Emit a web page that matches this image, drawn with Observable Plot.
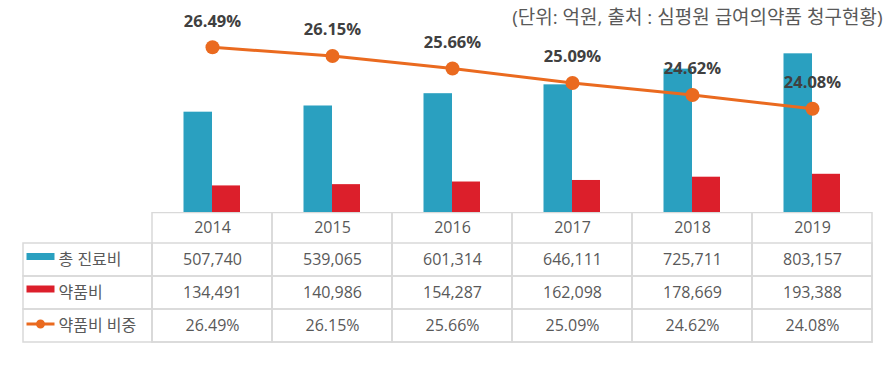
<!DOCTYPE html>
<html><head><meta charset="utf-8">
<script src="https://cdn.jsdelivr.net/npm/d3@7"></script>
<script src="https://cdn.jsdelivr.net/npm/@observablehq/plot@0.6"></script>
<style>
body{margin:0;background:#fff;}
#chart svg{display:block;}
</style></head><body><div id="chart"></div>
<script>
// ---- data ----
const years = ["2014", "2015", "2016", "2017", "2018", "2019"];
const totalCost = [507740, 539065, 601314, 646111, 725711, 803157];
const drugCost = [134491, 140986, 154287, 162098, 178669, 193388];
const drugShare = [26.49, 26.15, 25.66, 25.09, 24.62, 24.08];
const seriesNames = ["총 진료비", "약품비", "약품비 비중"];
const unitNote = "(단위: 억원, 출처 : 심평원 급여의약품 청구현황)";

// ---- style / scale settings ----
const FONT = '"Open Sans", "Noto Sans CJK KR", sans-serif';
const TEAL = "#2aa0c0", RED = "#dc1f2b", ORANGE = "#ea6a1f", GRID = "#d9d9d9", TEXT = "#595959";
const Y_MAX = 1073000;           // primary (억원) axis maximum
const PCT_AXIS = [20.02, 28.32]; // secondary (%) axis extent
const toPrimary = d3.scaleLinear().domain(PCT_AXIS).range([0, Y_MAX]);

const data = years.map((year, i) => ({year, total: totalCost[i], drug: drugCost[i], share: drugShare[i]}));

const chart = Plot.plot({
  width: 889, height: 212,
  marginLeft: 152, marginRight: 17, marginTop: 0, marginBottom: 0,
  style: {fontFamily: FONT, background: "#fff"},
  x: {type: "band", domain: years, padding: 0, axis: null},
  y: {domain: [0, Y_MAX], axis: null},
  marks: [
    Plot.barY(data, {x: "year", y: "total", fill: TEAL, insetLeft: 31.5, insetRight: 60}),
    Plot.barY(data, {x: "year", y: "drug", fill: RED, insetLeft: 60, insetRight: 32}),
    Plot.line(data, {x: "year", y: d => toPrimary(d.share), stroke: ORANGE, strokeWidth: 3}),
    Plot.dot(data, {x: "year", y: d => toPrimary(d.share), r: 7, fill: ORANGE, stroke: "none"}),
    Plot.text(data, {x: "year", y: d => toPrimary(d.share), text: d => d.share.toFixed(2) + "%",
      dy: -26, fontWeight: "bold", fontSize: 16.5, fill: "#404040"}),
    Plot.text([unitNote], {frameAnchor: "top-right", text: d => d, dx: 10, dy: 17,
      lineAnchor: "middle", fontSize: 19, fill: TEXT})
  ]
});

const fmt = d3.format(",");
const cells = [];
years.forEach((year, i) => {
  cells.push({year, row: seriesNames[0], text: fmt(totalCost[i])});
  cells.push({year, row: seriesNames[1], text: fmt(drugCost[i])});
  cells.push({year, row: seriesNames[2], text: drugShare[i].toFixed(2) + "%"});
});

const rectSwatch = {draw(ctx) { ctx.rect(-14, -3.5, 28, 7); }};
const lineSwatch = {draw(ctx) { ctx.rect(-14, -1.5, 28, 3); ctx.moveTo(4.5, 0); ctx.arc(0, 0, 4.5, 0, 2 * Math.PI); }};

const table = Plot.plot({
  width: 889, height: 154,
  marginLeft: 152, marginRight: 17, marginTop: 30, marginBottom: 24,
  style: {fontFamily: FONT, fontSize: "16px", color: TEXT, background: "#fff"},
  x: {type: "band", domain: years, padding: 0, axis: null},
  y: {type: "band", domain: seriesNames, padding: 0, axis: null},
  marks: [
    Plot.cell(years, {x: d => d, fill: "none", stroke: GRID, strokeWidth: 1.5, insetTop: -29.5}),
    Plot.cell(cells, {x: "year", y: "row", fill: "none", stroke: GRID, strokeWidth: 1.5}),
    Plot.cell(seriesNames, {y: d => d, fill: "none", stroke: GRID, strokeWidth: 1.5, insetLeft: -129, insetRight: 720}),
    Plot.text(years, {x: d => d, frameAnchor: "top", lineAnchor: "middle", dy: -15, text: d => d, fill: TEXT}),
    Plot.text(cells, {x: "year", y: "row", text: "text", fill: TEXT}),
    Plot.dot([seriesNames[0]], {y: d => d, frameAnchor: "left", dx: -112, dy: -3.5, symbol: rectSwatch, r: 5, fill: TEAL, stroke: "none"}),
    Plot.dot([seriesNames[1]], {y: d => d, frameAnchor: "left", dx: -112, dy: -4, symbol: rectSwatch, r: 5, fill: RED, stroke: "none"}),
    Plot.dot([seriesNames[2]], {y: d => d, frameAnchor: "left", dx: -112, dy: -2, symbol: lineSwatch, r: 5, fill: ORANGE, stroke: "none"}),
    Plot.text(seriesNames, {y: d => d, frameAnchor: "left", textAnchor: "start", dx: -94, text: d => d, fill: TEXT})
  ]
});

document.getElementById("chart").append(chart, table);
</script>
</body></html>
